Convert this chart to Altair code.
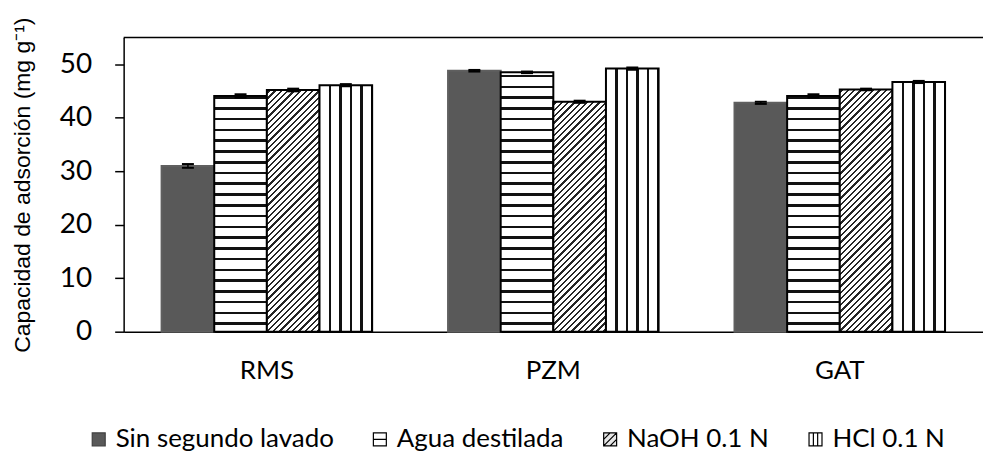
import altair as alt
import pandas as pd

# ---------------- data ----------------
categories = ["RMS", "PZM", "GAT"]
series = ["Sin segundo lavado", "Agua destilada", "NaOH 0.1 N", "HCl 0.1 N"]
sin_lavado = [31.0, 48.8, 42.8]
agua = [44.1, 48.5, 44.1]
naoh = [45.2, 43.0, 45.3]
hcl = [46.1, 49.2, 46.7]
err_sin = [0.35, 0.15, 0.2]
err_agua = [0.3, 0.15, 0.3]
err_naoh = [0.25, 0.2, 0.15]
err_hcl = [0.2, 0.2, 0.2]
y_ticks = [0, 10, 20, 30, 40, 50]
y_max = 55
y_title = "Capacidad de adsorción (mg g\u207b\u00b9)"

# ---------------- layout / style ----------------
W, H = 862, 295
PAD_IN = 0.265
PAD_OUT = PAD_IN / 2
step = W / (len(categories) - PAD_IN + 2 * PAD_OUT)
bar_w = step * (1 - PAD_IN) / len(series)
FONT = "Lato"

values = [sin_lavado, agua, naoh, hcl]
errors = [err_sin, err_agua, err_naoh, err_hcl]
rows = []
for si, s in enumerate(series):
    for ci, c in enumerate(categories):
        v = values[si][ci]
        e = errors[si][ci]
        rows.append({"cat": c, "series": s, "value": v, "lo": v - e, "hi": v + e, "mid": v / 2})
df = pd.DataFrame(rows)


def stripe_stops(length, period, thick, phase, line, bg="white"):
    stops = [{"offset": 0, "color": bg}]
    pos = phase
    last = 0.0
    while pos - thick / 2 < length:
        s = round(max(pos - thick / 2, 0) / length, 5)
        e = round(min(pos + thick / 2, length) / length, 5)
        s = max(s, last)
        e = max(e, s)
        stops += [{"offset": s, "color": bg}, {"offset": s, "color": line},
                  {"offset": e, "color": line}, {"offset": e, "color": bg}]
        last = e
        pos += period
    stops.append({"offset": 1, "color": bg})
    return stops


def bar_px(v):
    return v / y_max * H


def horiz(v):
    h = bar_px(v)
    return {"gradient": "linear", "x1": 0, "y1": 1, "x2": 0, "y2": 0,
            "stops": stripe_stops(h, 10.8, 2.6, 8.0, "#111111")}


def vert():
    return {"gradient": "linear", "x1": 0, "y1": 0, "x2": 1, "y2": 0,
            "stops": stripe_stops(bar_w, bar_w / 5, 2.6, bar_w / 5, "#111111")}


def diag(v):
    h = bar_px(v)
    a = bar_w / h
    s = (a + 1) / (a * a + 1)
    return {"gradient": "linear", "x1": 0, "y1": 0, "x2": round(a * s, 5), "y2": round(s, 5),
            "stops": stripe_stops(bar_w + h, 6.3, 2.3, 3.0, "#262626")}


conds = []
for ci, c in enumerate(categories):
    conds.append({"test": f"datum.cat === '{c}' && datum.series === '{series[1]}'", "value": horiz(agua[ci])})
    conds.append({"test": f"datum.cat === '{c}' && datum.series === '{series[2]}'", "value": diag(naoh[ci])})
    conds.append({"test": f"datum.cat === '{c}' && datum.series === '{series[3]}'", "value": vert()})

x_enc = alt.X("cat:N", sort=categories,
              scale=alt.Scale(paddingInner=PAD_IN, paddingOuter=PAD_OUT),
              axis=alt.Axis(title=None, labelAngle=0, labelFont=FONT, labelFontSize=26,
                            labelColor="black", ticks=False, tickSize=0, labelPadding=26,
                            domainColor="black", domainWidth=1.5))
xo_enc = alt.XOffset("series:N", sort=series, scale=alt.Scale(paddingInner=0, paddingOuter=0))
y_scale = alt.Scale(domain=[0, y_max], nice=False, zero=True)
y_axis = alt.Axis(values=y_ticks, title=y_title, titleFont="Liberation Sans", titleFontSize=23,
                  titleFontWeight="normal", titleColor="black", titlePadding=25,
                  labelFont=FONT, labelFontSize=28, labelColor="black", labelPadding=23,
                  tickSize=9, tickColor="black", tickWidth=1.5,
                  domainColor="black", domainWidth=1.5, grid=False)

shapes = [
    "M-1,-1H1V1H-1Z",
    "M-1,-1H1V1H-1Z M-1,0H1",
    "M-1,-1H1V1H-1Z M-1,0L0,-1 M-1,1L1,-1 M0,1L1,0",
    "M-1,-1H1V1H-1Z M-0.33,-1V1 M0.33,-1V1",
]
legend_fills = ["#595959", "white", "#e6e6e6", "white"]
legend_strokes = ["#404040", "black", "black", "black"]
legend = alt.Legend(title=None, orient="none", legendX=-38, legendY=390, direction="horizontal",
                    symbolSize=169, symbolStrokeWidth=1.2,
                    labelFont=FONT, labelFontSize=26, labelColor="black", labelOffset=4,
                    columnPadding=33, padding=0, labelLimit=400)

legend_layer = alt.Chart(df).mark_point(filled=True, size=20, opacity=1, strokeWidth=1).encode(
    x=x_enc, xOffset=xo_enc,
    y=alt.Y("mid:Q", scale=y_scale, axis=y_axis),
    shape=alt.Shape("series:N", sort=series, scale=alt.Scale(domain=series, range=shapes), legend=legend),
    fill=alt.Fill("series:N", sort=series, scale=alt.Scale(domain=series, range=legend_fills), legend=legend),
    stroke=alt.Stroke("series:N", sort=series, scale=alt.Scale(domain=series, range=legend_strokes), legend=legend),
)

bars = alt.Chart(df).mark_bar(strokeWidth=2, opacity=1).encode(
    x=x_enc, xOffset=xo_enc,
    y=alt.Y("value:Q", scale=y_scale, axis=y_axis),
    fill=alt.FillValue(value="#595959", condition=conds),
    stroke=alt.StrokeValue(value="black",
                           condition={"test": f"datum.series === '{series[0]}'", "value": "#5f5f5f"}),
)

err_rule = alt.Chart(df).mark_rule(color="black", strokeWidth=1.5, opacity=1).encode(
    x=x_enc, xOffset=xo_enc,
    y=alt.Y("lo:Q", scale=y_scale, axis=y_axis), y2="hi:Q",
)
cap_hi = alt.Chart(df).mark_tick(color="black", size=12, thickness=2, opacity=1).encode(
    x=x_enc, xOffset=xo_enc, y=alt.Y("hi:Q", scale=y_scale, axis=y_axis))
cap_lo = alt.Chart(df).mark_tick(color="black", size=12, thickness=2, opacity=1).encode(
    x=x_enc, xOffset=xo_enc, y=alt.Y("lo:Q", scale=y_scale, axis=y_axis))

top_line = alt.Chart(pd.DataFrame({"top": [y_max]})).mark_rule(color="black", strokeWidth=1.5).encode(
    y=alt.Y("top:Q", scale=y_scale, axis=y_axis))

chart = alt.layer(legend_layer, bars, err_rule, cap_hi, cap_lo, top_line).properties(
    width=W, height=H,
    autosize=alt.AutoSizeParams(type="none"),
    padding={"left": 116, "top": 29, "right": 0, "bottom": 121},
    background="white",
).configure_view(stroke=None)

chart.save("out.html", embed_options={"renderer": "svg", "actions": False})
